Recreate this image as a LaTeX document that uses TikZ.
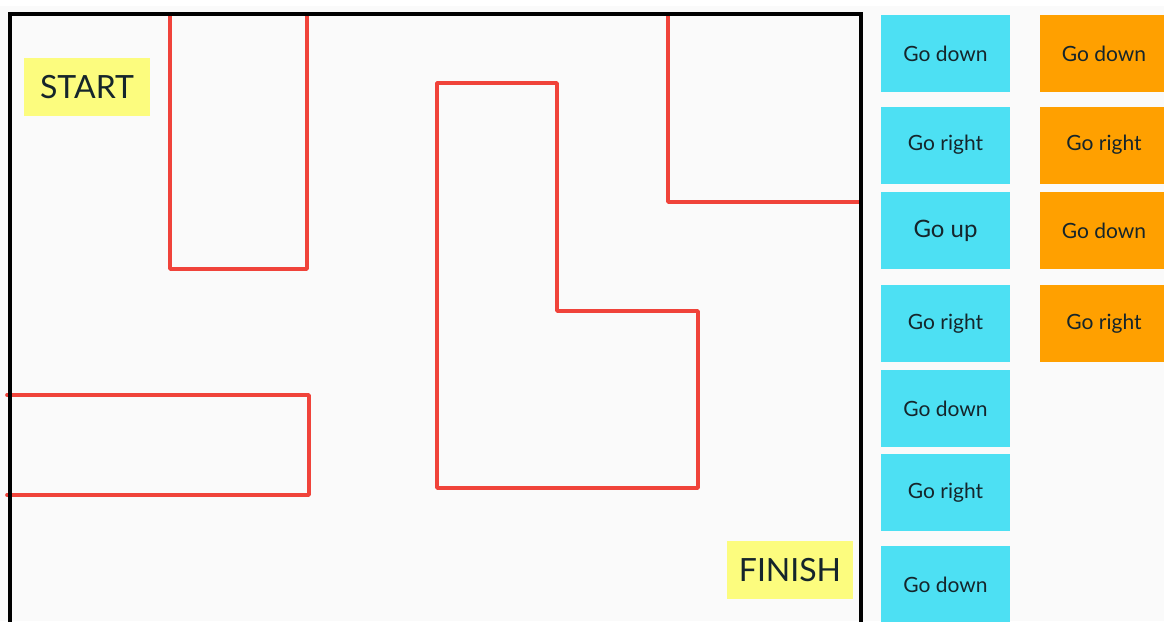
\documentclass[tikz,border=0pt]{standalone}
\usepackage{fontspec}
\setmainfont{Lato}
\definecolor{bg}{HTML}{FAFAFA}
\definecolor{wall}{HTML}{F0433A}
\definecolor{stepblue}{HTML}{4DE0F3}
\definecolor{steporange}{HTML}{FFA000}
\definecolor{label}{HTML}{FCFC7E}
\definecolor{ink}{HTML}{15252B}
\begin{document}
\begin{tikzpicture}[x=1pt,y=-1pt,
  wallline/.style={draw=wall,line width=3.6pt,line cap=round,line join=round},
  frameline/.style={draw=black,line width=3.6pt},
  movebox/.style={minimum width=129pt,minimum height=77pt,inner sep=0pt,text=ink,font=\fontsize{21}{24}\selectfont},
  tagbox/.style={fill=label,minimum width=126pt,minimum height=58pt,inner sep=0pt,text=ink,font=\fontsize{32}{36}\selectfont}]
\useasboundingbox (0,0) rectangle (1164,621);
\fill[bg] (0,0) rectangle (1164,621);
\fill[white] (0,0) rectangle (1164,6);
% walls
\draw[wallline] (170,14) -- (170,269) -- (307,269) -- (307,14);
\draw[wallline] (7,395) -- (309,395) -- (309,495) -- (7,495);
\draw[wallline] (437,83) -- (557,83) -- (557,311) -- (698,311) -- (698,488) -- (437,488) -- cycle;
\draw[wallline] (668,14) -- (668,202) -- (860,202);
% frame
\draw[frameline] (10,625) -- (10,14) -- (861,14) -- (861,625);
% labels
\node[tagbox] (start) at (87,87) {START};
\node[tagbox] (finish) at (790,570) {FINISH};
% moves, first column
\node[movebox,fill=stepblue] (b1) at (945.5,53.5) {Go down};
\node[movebox,fill=stepblue] (b2) at (945.5,145) {Go right};
\node[movebox,fill=stepblue,font=\fontsize{24}{28}\selectfont] (b3) at (945.5,230.5) {Go up};
\node[movebox,fill=stepblue] (b4) at (945.5,323.5) {Go right};
\node[movebox,fill=stepblue] (b5) at (945.5,408.5) {Go down};
\node[movebox,fill=stepblue] (b6) at (945.5,492.5) {Go right};
\node[movebox,fill=stepblue] (b7) at (945.5,584.5) {Go down};
% moves, second column
\node[movebox,fill=steporange] (o1) at (1104,53.5) {Go down};
\node[movebox,fill=steporange] (o2) at (1104,145) {Go right};
\node[movebox,fill=steporange] (o3) at (1104,230.5) {Go down};
\node[movebox,fill=steporange] (o4) at (1104,323.5) {Go right};
\end{tikzpicture}
\end{document}
